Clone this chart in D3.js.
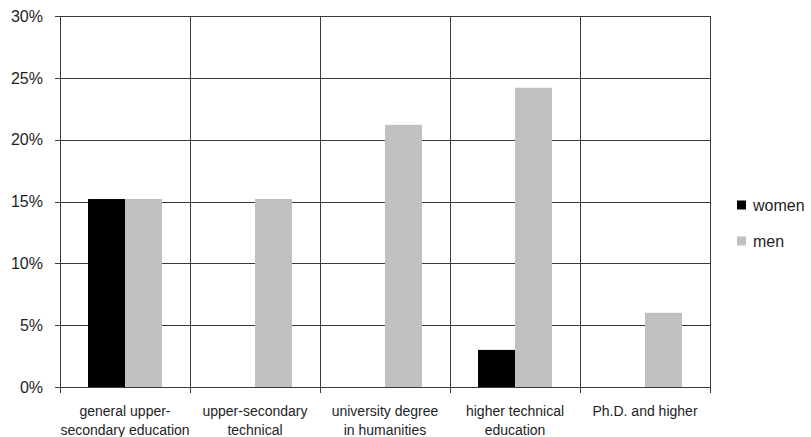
<!DOCTYPE html>
<html>
<head>
<meta charset="utf-8">
<script src="https://cdn.jsdelivr.net/npm/d3@7"></script>
<style>
  html, body { margin: 0; padding: 0; background: #fff; }
  svg { display: block; font-family: Arial, "Liberation Sans", sans-serif; }
</style>
</head>
<body>
<svg id="chart" width="811" height="437"></svg>
<script>
// Education level categories (two-line labels)
const categories = [
  ["general upper-", "secondary education"],
  ["upper-secondary", "technical"],
  ["university degree", "in humanities"],
  ["higher technical", "education"],
  ["Ph.D. and higher"]
];
const seriesNames = ["women", "men"];
const seriesColors = ["#000000", "#c0c0c2"];
const women = [15.2, 0, 0, 3.0, 0];
const men = [15.2, 15.2, 21.2, 24.2, 6.0];
const yTicks = [0, 5, 10, 15, 20, 25, 30];

const svg = d3.select("#chart");
const margin = { left: 60, right: 101, top: 16, bottom: 50 };
const W = 811, H = 437;
const plotW = W - margin.left - margin.right;
const plotH = H - margin.top - margin.bottom;
const lineColor = "#3a3a3a";
const textColor = "#1e1e1e";

const x0 = d3.scaleBand().domain(d3.range(categories.length)).range([0, plotW]).padding(0);
const x1 = d3.scaleBand().domain(seriesNames)
  .range([x0.bandwidth() * 0.2154, x0.bandwidth() * (1 - 0.2154)]).padding(0);
const y = d3.scaleLinear().domain([0, 30]).range([plotH, 0]);

const g = svg.append("g").attr("transform", `translate(${margin.left},${margin.top})`);

// horizontal gridlines
g.selectAll("line.grid").data(yTicks).enter().append("line")
  .attr("class", "grid")
  .attr("x1", -5).attr("x2", plotW)
  .attr("y1", d => Math.round(y(d)) + 0.5).attr("y2", d => Math.round(y(d)) + 0.5)
  .attr("stroke", lineColor).attr("stroke-width", 1);

// vertical category dividers with tick marks below the axis
const dividers = d3.range(categories.length + 1).map(i => i < categories.length ? x0(i) : plotW);
g.selectAll("line.vdiv").data(dividers).enter().append("line")
  .attr("class", "vdiv")
  .attr("x1", d => Math.round(d) + 0.5).attr("x2", d => Math.round(d) + 0.5)
  .attr("y1", 0).attr("y2", plotH + 6)
  .attr("stroke", lineColor).attr("stroke-width", 1);

// bars
const rows = categories.map((c, i) => ({ i, values: [women[i], men[i]] }));
const groups = g.selectAll("g.cat").data(rows).enter().append("g")
  .attr("transform", d => `translate(${x0(d.i)},0)`);
groups.selectAll("rect").data(d => d.values.map((v, k) => ({ k, v })).filter(e => e.v > 0))
  .enter().append("rect")
  .attr("x", d => x1(seriesNames[d.k]))
  .attr("width", x1.bandwidth())
  .attr("y", d => y(d.v))
  .attr("height", d => y(0) - y(d.v))
  .attr("fill", d => seriesColors[d.k]);

// redraw baseline on top of bars
g.append("line")
  .attr("x1", -5).attr("x2", plotW)
  .attr("y1", Math.round(y(0)) + 0.5).attr("y2", Math.round(y(0)) + 0.5)
  .attr("stroke", lineColor).attr("stroke-width", 1);

// y tick labels
g.selectAll("text.ytick").data(yTicks).enter().append("text")
  .attr("x", -17).attr("y", d => y(d))
  .attr("dy", "0.36em")
  .attr("text-anchor", "end")
  .attr("font-size", 16)
  .attr("fill", textColor)
  .text(d => d + "%");

// category labels
const catLabels = g.selectAll("text.cat").data(categories).enter().append("text")
  .attr("text-anchor", "middle")
  .attr("font-size", 14)
  .attr("fill", textColor)
  .attr("transform", (d, i) => `translate(${x0(i) + x0.bandwidth() / 2},${plotH + 29})`);
catLabels.selectAll("tspan").data(d => d).enter().append("tspan")
  .attr("x", 0)
  .attr("y", (d, j) => j * 19)
  .text(d => d);

// legend
const legend = svg.append("g").attr("transform", "translate(737,205)");
const items = legend.selectAll("g").data(seriesNames).enter().append("g")
  .attr("transform", (d, i) => `translate(0,${i * 36})`);
items.append("rect")
  .attr("x", 0).attr("y", -4.5).attr("width", 9).attr("height", 9)
  .attr("fill", (d, i) => seriesColors[i]);
items.append("text")
  .attr("x", 16).attr("y", 0).attr("dy", "0.36em")
  .attr("font-size", 16)
  .attr("fill", textColor)
  .text(d => d);
</script>
</body>
</html>
